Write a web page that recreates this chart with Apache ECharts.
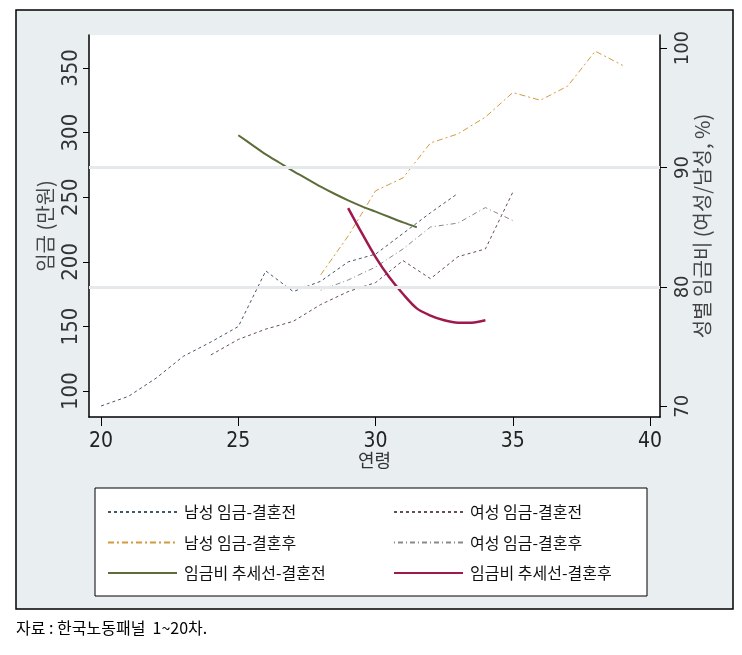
<!DOCTYPE html>
<html><head><meta charset="utf-8">
<script src="https://cdn.jsdelivr.net/npm/echarts@6/dist/echarts.min.js"></script>
<style>html,body{margin:0;padding:0;background:#fff}#c{width:742px;height:655px}</style>
</head><body><div id="c"></div>
<script>
// ---- data ----
const xTicks = [20, 25, 30, 35, 40];
const wageTicks = [100, 150, 200, 250, 300, 350];
const ratioTicks = [70, 80, 90, 100];
const ratioGrid = [80, 90];

const maleBeforeAge = [20, 21, 22, 23, 24, 25, 26, 27, 28, 29, 30, 31, 32, 33];
const maleBefore    = [88.5, 96, 110, 127, 138, 150, 193, 177, 185, 200, 206, 222, 238, 253];

const femaleBeforeAge = [24, 25, 26, 27, 28, 29, 30, 31, 32, 33, 34, 35];
const femaleBefore    = [128, 140, 148, 154, 167, 177, 184, 201, 187, 204, 210, 254];

const maleAfterAge = [28, 29, 30, 31, 32, 33, 34, 35, 36, 37, 38, 39];
const maleAfter    = [190, 220, 255, 265, 292, 299, 312, 331, 325, 336, 363, 352];

const femaleAfterAge = [28, 29, 30, 31, 32, 33, 34, 35];
const femaleAfter    = [178, 186, 196, 210, 227, 230, 242, 232];

const trendBeforeAge = [25, 25.5, 26, 26.5, 27, 27.5, 28, 28.5, 29, 29.5, 30, 30.5, 31, 31.5];
const trendBefore    = [92.7, 91.9, 91.1, 90.4, 89.7, 89.05, 88.4, 87.8, 87.25, 86.75, 86.3, 85.85, 85.4, 85.0];

const trendAfterAge = [29, 29.5, 30, 30.5, 31, 31.5, 32, 32.5, 33, 33.5, 34];
const trendAfter    = [86.6, 84.5, 82.5, 80.8, 79.4, 78.2, 77.6, 77.2, 77.0, 77.0, 77.2];

const names = ['남성 임금-결혼전', '여성 임금-결혼전', '남성 임금-결혼후', '여성 임금-결혼후', '임금비 추세선-결혼전', '임금비 추세선-결혼후'];
const xName = '연령';
const yLeftName = '임금 (만원)';
const yRightName = '성별 임금비 (여성/남성, %)';
const note = '자료 : 한국노동패널  1~20차.';

// ---- chart ----
const KR = '"Noto Sans CJK KR", sans-serif';
const NUM = '"Liberation Sans Narrow", "DejaVu Sans Condensed", "Liberation Sans", sans-serif';
const pairs = (a, v) => a.map((x, i) => [x, v[i]]);

function lineSeries(name, a, v, axis, color, width, type, smooth) {
  return {
    name, type: 'line', yAxisIndex: axis, data: pairs(a, v),
    symbol: 'none', smooth: smooth || false, z: 3,
    lineStyle: { color, width, type }, itemStyle: { color }
  };
}

const legendBase = {
  orient: 'vertical', top: 499, itemWidth: 69, itemHeight: 14, itemGap: 14.5,
  itemStyle: { opacity: 0 },
  textStyle: { fontFamily: KR, fontSize: 16, color: '#111', padding: [0, 0, 0, 2] }
};

const chart = echarts.init(document.getElementById('c'), null, { renderer: 'canvas' });
chart.setOption({
  animation: false,
  graphic: [
    { type: 'rect', z: -100, shape: { x: 16, y: 10, width: 717, height: 599 },
      style: { fill: '#e9eef1', stroke: '#000', lineWidth: 1.5 } },
    { type: 'rect', z: -50, shape: { x: 95, y: 488, width: 552, height: 108 },
      style: { fill: '#fff', stroke: '#000', lineWidth: 1 } },
    { type: 'text', x: 16, y: 620, style: { text: note, font: '16px ' + KR, fill: '#000' } }
  ],
  grid: { left: 89, top: 35, width: 571, height: 382, show: true, backgroundColor: '#fff', borderWidth: 0 },
  xAxis: {
    type: 'value', min: 19.56, max: 40.36,
    name: xName, nameLocation: 'middle', nameGap: 34, nameMoveOverlap: false,
    nameTextStyle: { fontFamily: KR, fontSize: 18, color: '#333' },
    axisLine: { lineStyle: { color: '#000', width: 1.5 } },
    axisTick: { customValues: xTicks, length: 9, lineStyle: { color: '#000' } },
    axisLabel: { customValues: xTicks, margin: 14, fontFamily: NUM, fontSize: 21, color: '#222' },
    splitLine: { show: false }
  },
  yAxis: [
    {
      type: 'value', min: 80, max: 375.5, position: 'left',
      name: yLeftName, nameLocation: 'middle', nameGap: 34, nameRotate: 90, nameMoveOverlap: false,
      nameTextStyle: { fontFamily: KR, fontSize: 20, color: '#444' },
      axisLine: { show: true, lineStyle: { color: '#000', width: 1.5 } },
      axisTick: { show: true, customValues: wageTicks, length: 6, lineStyle: { color: '#000' } },
      axisLabel: { customValues: wageTicks, rotate: 90, margin: 7, fontFamily: NUM, fontSize: 22, color: '#333' },
      splitLine: { show: false }
    },
    {
      type: 'value', min: 69.1, max: 101.1, position: 'right',
      name: yRightName, nameLocation: 'middle', nameGap: 32, nameRotate: 90, nameMoveOverlap: false,
      nameTextStyle: { fontFamily: KR, fontSize: 20, color: '#444' },
      axisLine: { show: true, lineStyle: { color: '#000', width: 1.5 } },
      axisTick: { show: true, customValues: ratioTicks, length: 7, lineStyle: { color: '#000' } },
      axisLabel: { customValues: ratioTicks, rotate: 90, margin: 13, fontFamily: NUM, fontSize: 20, color: '#333' },
      splitLine: { show: false }
    }
  ],
  legend: [
    Object.assign({}, legendBase, { left: 102, data: [names[0], names[2], names[4]] }),
    Object.assign({}, legendBase, { left: 388, data: [names[1], names[3], names[5]] })
  ],
  series: [
    { name: 'grid', type: 'line', yAxisIndex: 1, data: [], z: 1, silent: true,
      markLine: { silent: true, symbol: 'none', label: { show: false },
        lineStyle: { color: '#e6e9eb', width: 3, type: 'solid' },
        data: ratioGrid.map(v => ({ yAxis: v })) } },
    lineSeries(names[0], maleBeforeAge, maleBefore, 0, '#46566a', 1, [3, 3]),
    lineSeries(names[1], femaleBeforeAge, femaleBefore, 0, '#6a4a58', 1, [3, 3]),
    lineSeries(names[2], maleAfterAge, maleAfter, 0, '#d49a3e', 1, [6, 3, 2, 3]),
    lineSeries(names[3], femaleAfterAge, femaleAfter, 0, '#8a8a8a', 1, [1, 3, 5, 3]),
    lineSeries(names[4], trendBeforeAge, trendBefore, 1, '#5c6d3a', 2, 'solid', 0.3),
    lineSeries(names[5], trendAfterAge, trendAfter, 1, '#a0194c', 2.5, 'solid', 0.3)
  ]
});
</script>
</body></html>
